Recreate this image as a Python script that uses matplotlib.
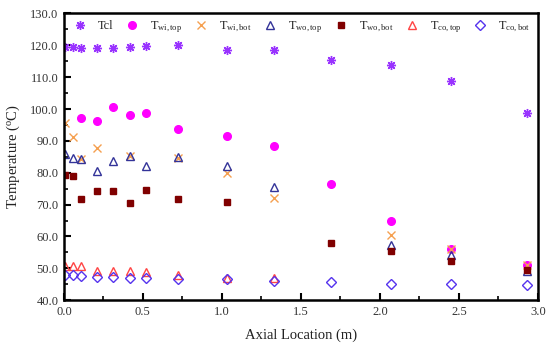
import matplotlib
matplotlib.use("Agg")
import matplotlib.pyplot as plt
from matplotlib.ticker import MultipleLocator, FormatStrFormatter

plt.rcParams['font.family'] = ['Liberation Serif', 'DejaVu Serif']
plt.rcParams['mathtext.fontset'] = 'custom'
plt.rcParams['mathtext.rm'] = 'Liberation Serif'
plt.rcParams['mathtext.it'] = 'Liberation Serif:italic'

x_all = [0.01, 0.06, 0.11, 0.21, 0.31, 0.42, 0.52, 0.72, 1.03, 1.33, 1.69, 2.07, 2.45, 2.93]

tcl = [119.4, 119.6, 119.0, 119.0, 119.0, 119.4, 119.7, 120.1, 118.5, 118.5, 115.4, 113.7, 108.9, 98.7]

x_wi_top = [0.11, 0.21, 0.31, 0.42, 0.52, 0.72, 1.03, 1.33, 1.69, 2.07, 2.45, 2.93]
twi_top = [97.1, 96.2, 100.5, 98.2, 98.6, 93.7, 91.4, 88.3, 76.4, 64.7, 56.0, 51.1]

x_wi_bot = [0.01, 0.06, 0.11, 0.21, 0.42, 0.72, 1.03, 1.33, 2.07, 2.45, 2.93]
twi_bot = [95.7, 91.3, 84.3, 87.9, 85.3, 84.6, 79.8, 72.1, 60.5, 56.0, 51.0]

x_wo_top = [0.01, 0.06, 0.11, 0.21, 0.31, 0.42, 0.52, 0.72, 1.03, 1.33, 2.07, 2.45, 2.93]
two_top = [85.8, 84.5, 84.2, 80.6, 83.8, 85.4, 82.1, 84.9, 82.1, 75.5, 57.4, 54.2, 49.3]

x_wo_bot = [0.01, 0.06, 0.11, 0.21, 0.31, 0.42, 0.52, 0.72, 1.03, 1.69, 2.07, 2.45, 2.93]
two_bot = [79.3, 79.0, 71.8, 74.3, 74.4, 70.4, 74.7, 71.7, 70.9, 57.9, 55.5, 52.4, 49.5]

x_co_top = [0.01, 0.06, 0.11, 0.21, 0.31, 0.42, 0.52, 0.72, 1.03, 1.33]
tco_top = [50.6, 50.6, 50.6, 49.0, 49.0, 49.0, 48.7, 47.9, 47.1, 46.9]

tco_bot = [48.0, 48.0, 47.7, 47.2, 47.2, 47.1, 47.0, 46.6, 46.6, 45.9, 45.6, 45.2, 45.1, 44.9]

labels = ['Tcl', r'T$_{\mathrm{wi,top}}$', r'T$_{\mathrm{wi,bot}}$', r'T$_{\mathrm{wo,top}}$',
          r'T$_{\mathrm{wo,bot}}$', r'T$_{\mathrm{co,top}}$', r'T$_{\mathrm{co,bot}}$']

fig = plt.figure(figsize=(5.46, 3.45), dpi=100)
ax = fig.add_axes([0.117, 0.130, 0.868, 0.831])

ms = 5.5
ax.plot(x_all, tcl, ls='none', marker=(8, 2, 0), ms=6.5, mew=1.0, color='#9933FF', label=labels[0])
ax.plot(x_wi_top, twi_top, ls='none', marker='o', ms=ms, color='#FF00FF', mec='#FF00FF', label=labels[1])
ax.plot(x_wi_bot, twi_bot, ls='none', marker='x', ms=ms, mew=1.0, color='#F5A050', label=labels[2])
ax.plot(x_wo_top, two_top, ls='none', marker='^', ms=ms, mfc='none', mew=1.0, mec='#333399', color='#333399', label=labels[3])
ax.plot(x_wo_bot, two_bot, ls='none', marker='s', ms=5, color='#800000', label=labels[4])
ax.plot(x_co_top, tco_top, ls='none', marker='^', ms=ms, mfc='none', mew=1.0, mec='#FF4444', color='#FF4444', label=labels[5])
ax.plot(x_all, tco_bot, ls='none', marker='D', ms=4.8, mfc='none', mew=1.0, mec='#5533EE', color='#5533EE', label=labels[6])

ax.set_xlim(0, 3.0)
ax.set_ylim(40, 130)
ax.xaxis.set_major_locator(MultipleLocator(0.5))
ax.xaxis.set_minor_locator(MultipleLocator(0.25))
ax.yaxis.set_major_locator(MultipleLocator(10))
ax.yaxis.set_minor_locator(MultipleLocator(5))
ax.xaxis.set_major_formatter(FormatStrFormatter('%.1f'))
ax.yaxis.set_major_formatter(FormatStrFormatter('%.1f'))
ax.tick_params(which='both', direction='in', top=False, right=False, labelsize=9, labelcolor='#333333', pad=4)
ax.tick_params(which='major', length=5, width=1.5)
ax.tick_params(which='minor', length=3, width=1.2)
for s in ax.spines.values():
    s.set_linewidth(1.8)

ax.set_xlabel('Axial Location (m)', fontsize=10.5, color='#222222', labelpad=8)
ax.set_ylabel(r'Temperature ($^{\mathrm{o}}$C)', fontsize=10.5, color='#222222', labelpad=6)

ax.legend(loc='upper left', ncol=7, frameon=False, fontsize=8.8, bbox_to_anchor=(0.008, 1.0),
          handletextpad=0.95, columnspacing=1.05, handlelength=1.0, borderaxespad=0.3,
          borderpad=0.2, labelcolor='#222222')

fig.savefig('out.png', dpi=100)
